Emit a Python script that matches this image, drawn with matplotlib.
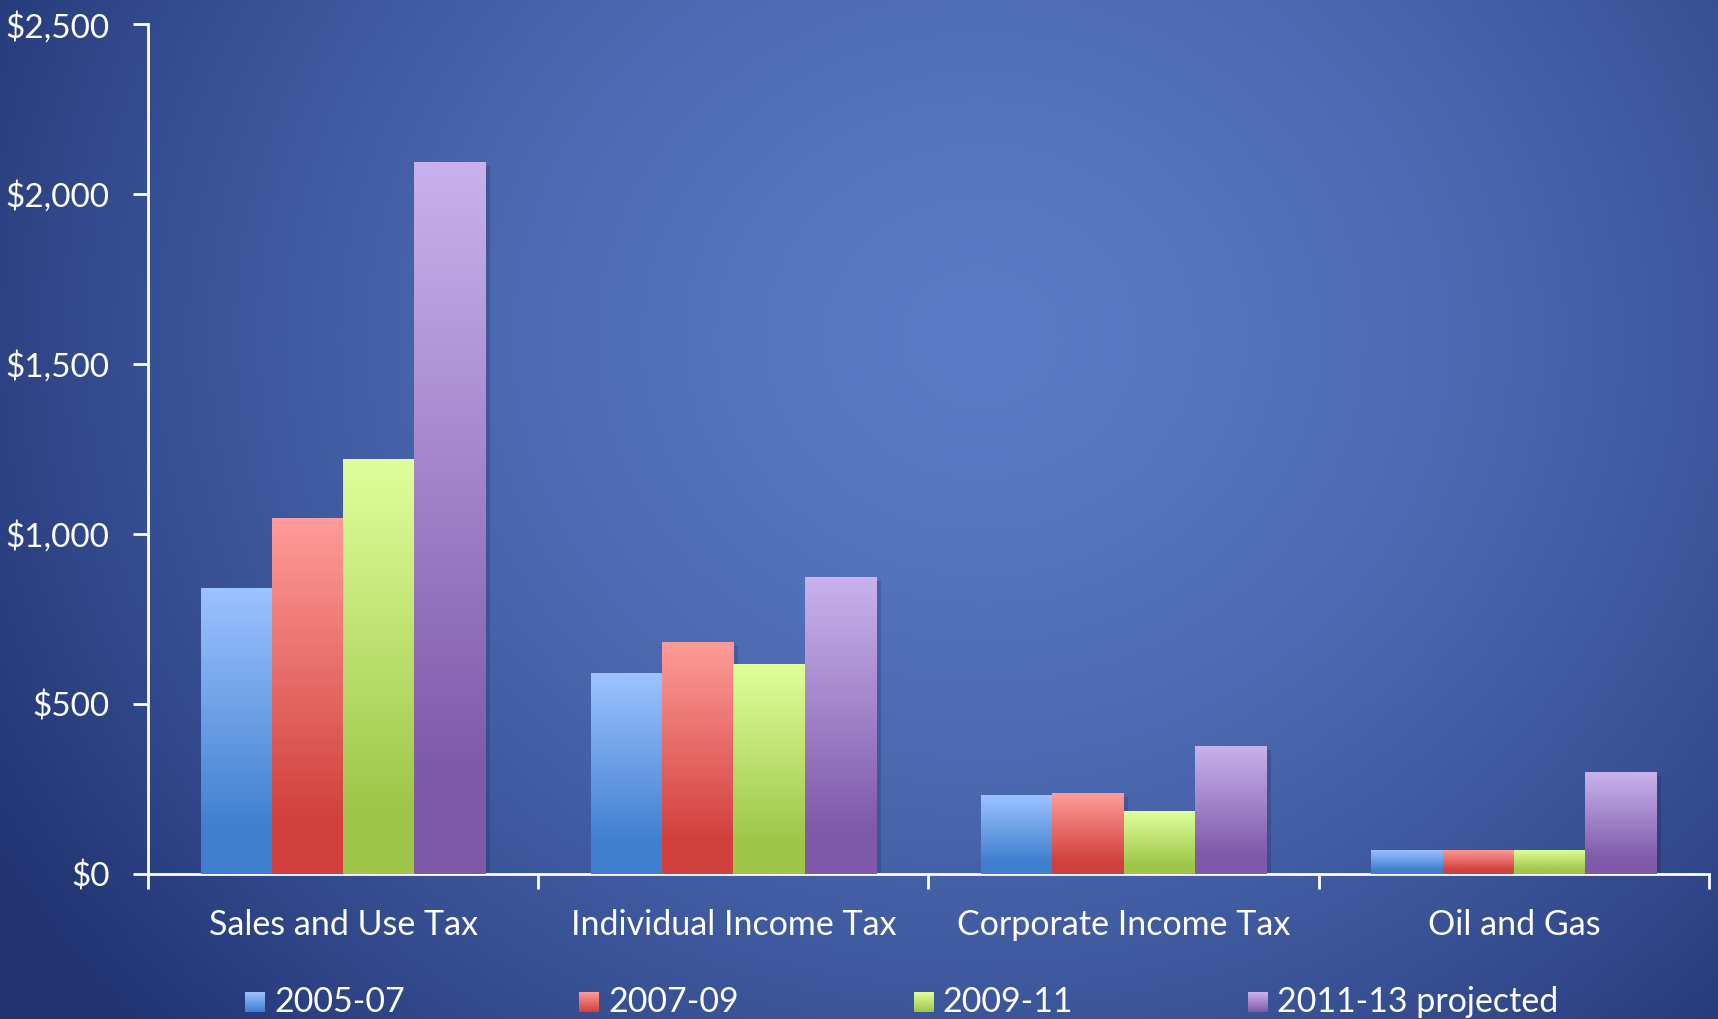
import numpy as np
import matplotlib
matplotlib.use("Agg")
import matplotlib.pyplot as plt
from matplotlib.colors import LinearSegmentedColormap
from matplotlib.ticker import FuncFormatter, FixedLocator

categories = ["Sales and Use Tax", "Individual Income Tax", "Corporate Income Tax", "Oil and Gas"]
series_names = ["2005-07", "2007-09", "2009-11", "2011-13 projected"]
v_2005_07 = [841, 590, 232, 71]
v_2007_09 = [1047, 683, 238, 71]
v_2009_11 = [1221, 619, 184, 71]
v_2011_13 = [2094, 873, 377, 300]
series_values = [v_2005_07, v_2007_09, v_2009_11, v_2011_13]
y_ticks = [0, 500, 1000, 1500, 2000, 2500]

top_colors = ["#9cc3ff", "#ff9c99", "#e0ff9c", "#c9b2ec"]
bot_colors = ["#3f7fcf", "#d1403d", "#9ec649", "#7f5aab"]

plt.rcParams['font.family'] = ['Lato', 'DejaVu Sans']

fig = plt.figure(figsize=(17.18, 10.19), dpi=100)

# background radial gradient
bg = fig.add_axes([0, 0, 1, 1], zorder=-10)
bg.set_axis_off()
H, W = 300, 500
yy, xx = np.mgrid[0:H, 0:W]
cx, cy = 0.57 * W, 0.33 * H
r = np.sqrt(((xx - cx) / (0.66 * W)) ** 2 + ((yy - cy) / (1.0 * H)) ** 2)
r = np.clip(r, 0, 1) ** 1.6
c0 = np.array([90, 122, 197]) / 255.0
c1 = np.array([33, 52, 115]) / 255.0
img = c0[None, None, :] * (1 - r[..., None]) + c1[None, None, :] * r[..., None]
bg.imshow(img, extent=[0, 1, 0, 1], aspect='auto', interpolation='bilinear')
bg.set_xlim(0, 1)
bg.set_ylim(0, 1)

ax = fig.add_axes([0.0861, 0.1423, 0.9087, 0.8341])
ax.patch.set_alpha(0)

n = len(series_names)
width = 0.1826
x = np.arange(len(categories))
for i, (vals, name) in enumerate(zip(series_values, series_names)):
    offs = (i - (n - 1) / 2) * width
    bars = ax.bar(x + offs, vals, width=width, color='none', edgecolor='none', label=name, zorder=3)
    cmap = LinearSegmentedColormap.from_list(
        name, [(0.0, bot_colors[i]), (0.15, bot_colors[i]), (1.0, top_colors[i])])
    grad = np.linspace(0, 1, 256).reshape(-1, 1)
    for b in bars:
        x0, y0 = b.get_x(), b.get_y()
        w, h = b.get_width(), b.get_height()
        # shadow
        ax.bar(x0 + w / 2 + 0.012, h, width=w, bottom=-12, color='#10183a', alpha=0.18, zorder=2, edgecolor='none')
        im = ax.imshow(grad, extent=[x0, x0 + w, y0, y0 + h], origin='lower', cmap=cmap,
                       aspect='auto', zorder=3, interpolation='bilinear')
        im.set_clip_path(b)

ax.set_xlim(-0.5, len(categories) - 0.5)
ax.set_ylim(0, 2500)
ax.set_yticks(y_ticks)
ax.yaxis.set_major_formatter(FuncFormatter(lambda v, p: "${:,.0f}".format(v)))
ax.set_xticks(x)
ax.set_xticklabels(categories)
ax.xaxis.set_minor_locator(FixedLocator(np.arange(-0.5, len(categories), 1.0)))

for s in ['top', 'right']:
    ax.spines[s].set_visible(False)
for s in ['left', 'bottom']:
    ax.spines[s].set_color('white')
    ax.spines[s].set_linewidth(2)
ax.tick_params(axis='y', colors='white', labelsize=24, length=11, width=2, pad=16.5)
ax.tick_params(axis='x', which='major', colors='white', labelsize=24.5, length=0, pad=25)
ax.tick_params(axis='x', which='minor', colors='white', length=11, width=2)

# legend (manual, gradient swatches)
lx0 = 0.1428
dx = 0.1945
ly = 0.0070
sw, sh = 0.0116, 0.0196
for i, name in enumerate(series_names):
    lax = fig.add_axes([lx0 + i * dx, ly, sw, sh])
    lax.set_axis_off()
    cmap = LinearSegmentedColormap.from_list(name + "_l", [bot_colors[i], top_colors[i]])
    lax.imshow(np.linspace(0, 1, 64).reshape(-1, 1), origin='lower', cmap=cmap, aspect='auto',
               extent=[0, 1, 0, 1])
    fig.text(lx0 + i * dx + 0.0170, ly + sh / 2, name, color='white', fontsize=24.5,
             va='center', ha='left')

fig.savefig("out.png", dpi=100)
